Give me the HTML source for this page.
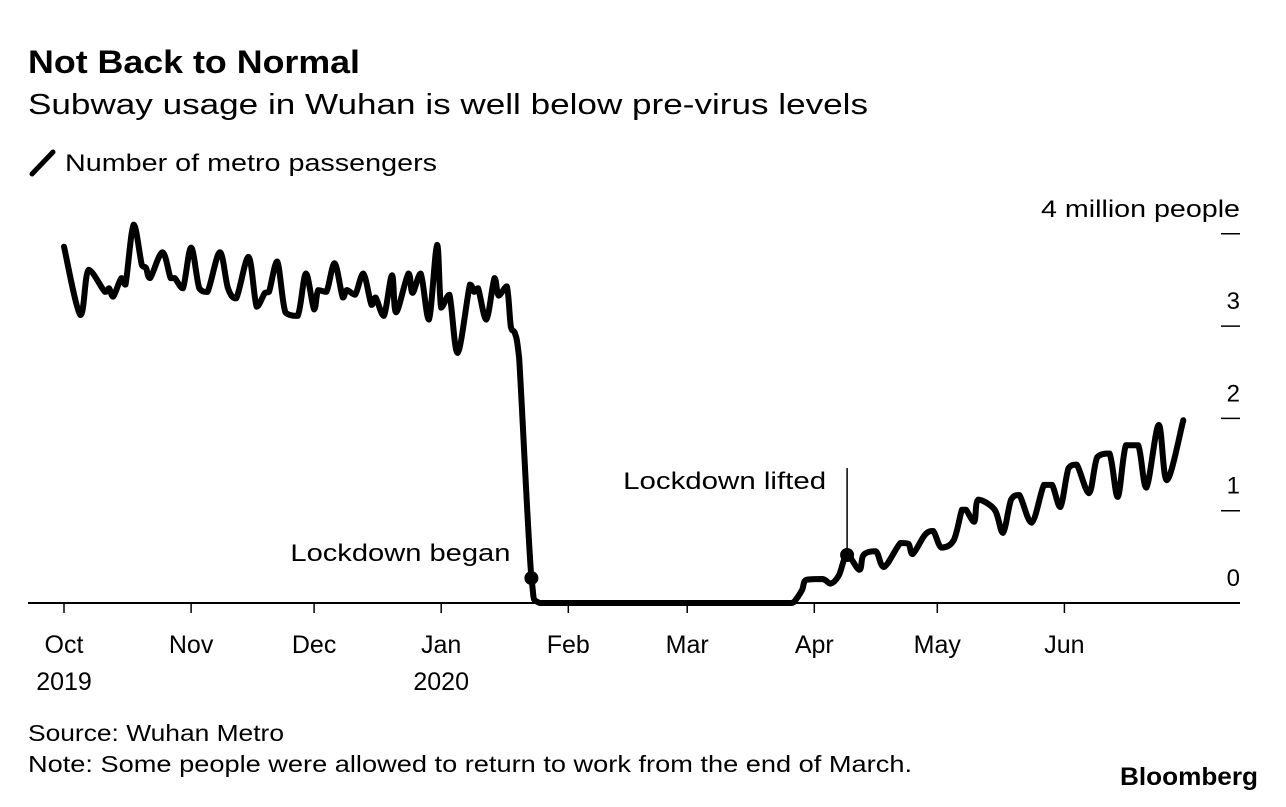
<!DOCTYPE html>
<html><head><meta charset="utf-8"><style>
body{margin:0;background:#fff;}
svg text{font-family:"Liberation Sans",sans-serif;fill:#000;}
</style></head><body>
<svg width="1286" height="802" xmlns="http://www.w3.org/2000/svg">
<text x="28" y="73" font-size="32" font-weight="bold" textLength="332" lengthAdjust="spacingAndGlyphs">Not Back to Normal</text>
<text x="28" y="114" font-size="29" textLength="840" lengthAdjust="spacingAndGlyphs">Subway usage in Wuhan is well below pre-virus levels</text>
<line x1="32" y1="174" x2="53" y2="152" stroke="#000" stroke-width="5" stroke-linecap="round"/>
<text x="65" y="171" font-size="24" textLength="372" lengthAdjust="spacingAndGlyphs">Number of metro passengers</text>
<g id="yaxis"></g>
<g id="xaxis"></g>
<g id="series"></g>
<text x="28" y="741" font-size="23" textLength="256" lengthAdjust="spacingAndGlyphs">Source: Wuhan Metro</text>
<text x="28" y="772" font-size="23" textLength="884" lengthAdjust="spacingAndGlyphs">Note: Some people were allowed to return to work from the end of March.</text>
<text x="1120" y="785" font-size="25" font-weight="bold" textLength="138" lengthAdjust="spacingAndGlyphs">Bloomberg</text>
</svg>
<script>
const days=[0,4,6,10,11,12,14,15,17,19,20,21,24,26,27,29,31,33,35,38,40,42,45,47,49,50,52,54,57,59,61,62,64,66,68,69,71,73,75,76,78,80,81,84,85,87,89,91,92,94,96,99,100,101,103,105,106,108,109,110,111,114,116,177,178,180,181,185,187,189,191,194,195,198,200,204,206,207,210,212,214,217,219,220,222,223,227,229,231,233,236,239,241,243,245,247,250,252,255,257,259,262,264,267,269,273];
const values=[3.86,3.12,3.61,3.37,3.41,3.32,3.52,3.45,4.10,3.66,3.63,3.52,3.80,3.52,3.52,3.41,3.85,3.41,3.37,3.80,3.41,3.30,3.75,3.21,3.36,3.37,3.70,3.15,3.11,3.57,3.18,3.39,3.37,3.68,3.31,3.39,3.34,3.57,3.23,3.31,3.11,3.55,3.15,3.57,3.36,3.57,3.07,3.88,3.20,3.34,2.71,3.45,3.37,3.41,3.07,3.52,3.33,3.43,2.99,2.92,2.66,0.27,0,0,0.01,0.14,0.25,0.26,0.21,0.30,0.52,0.36,0.52,0.56,0.39,0.65,0.64,0.53,0.74,0.78,0.60,0.68,1.01,1.01,0.88,1.12,1.01,0.76,1.12,1.17,0.87,1.28,1.28,1.04,1.46,1.50,1.19,1.58,1.62,1.15,1.71,1.71,1.25,1.93,1.33,1.98];
const monthDays=[0,31,61,92,123,152,183,213,244];
const monthLabels=["Oct","Nov","Dec","Jan","Feb","Mar","Apr","May","Jun"];
const yearLabels=["2019","","","2020","","","","",""];
const yTicks=[0,1,2,3,4];
const yTickLabels=["0","1","2","3","4 million people"];
const eventDays=[114,191];
const eventValues=[0.27,0.52];
const eventLabels=["Lockdown began","Lockdown lifted"];

const NS="http://www.w3.org/2000/svg";
function X(d){return 64+d*4.1;}
function Y(v){return 603-v*92.3;}
function mk(tag,attrs,parent,txt){const e=document.createElementNS(NS,tag);for(const k in attrs)e.setAttribute(k,attrs[k]);if(txt!==undefined)e.textContent=txt;parent.appendChild(e);return e;}
function cl(v,a,b){const lo=Math.min(a,b),hi=Math.max(a,b);return Math.max(lo,Math.min(hi,v));}
const ya=document.getElementById('yaxis'),xa=document.getElementById('xaxis'),sg=document.getElementById('series');
yTicks.forEach((t,i)=>{
  if(t>0){const l=mk('line',{x1:1221,x2:1240,y1:Y(t),y2:Y(t),stroke:'#000','stroke-width':1.5},ya);
  
  }
  const a={x:1240,y:Y(t)-17,'font-size':24,'text-anchor':'end'};
  if(t===4){a.textLength=199;a.lengthAdjust='spacingAndGlyphs';}
  const tx=mk('text',a,ya,yTickLabels[i]);
  
  
});
const base=mk('line',{x1:28,x2:1240,y1:603,y2:603,stroke:'#000','stroke-width':2},xa);


monthDays.forEach((d,i)=>{
  const l=mk('line',{x1:X(d),x2:X(d),y1:603,y2:613,stroke:'#000','stroke-width':1.5},xa);
  
  
  const t=mk('text',{x:X(d),y:653,'font-size':25,'text-anchor':'middle'},xa,monthLabels[i]);
  
  
  if(yearLabels[i]){const y=mk('text',{x:X(d),y:690,'font-size':25,'text-anchor':'middle'},xa,yearLabels[i]);
  
  }
});
const P=days.map((d,i)=>[X(d),Y(values[i])]);
let dstr='M'+P[0][0].toFixed(1)+','+P[0][1].toFixed(1);
for(let i=0;i<P.length-1;i++){
  const p0=P[Math.max(0,i-1)],p1=P[i],p2=P[i+1],p3=P[Math.min(P.length-1,i+2)];
  const k=1/6;
  const c1=[cl(p1[0]+(p2[0]-p0[0])*k,p1[0],p2[0]),cl(p1[1]+(p2[1]-p0[1])*k,p1[1],p2[1])];
  const c2=[cl(p2[0]-(p3[0]-p1[0])*k,p1[0],p2[0]),cl(p2[1]-(p3[1]-p1[1])*k,p1[1],p2[1])];
  dstr+=' C'+c1[0].toFixed(1)+','+c1[1].toFixed(1)+' '+c2[0].toFixed(1)+','+c2[1].toFixed(1)+' '+p2[0].toFixed(1)+','+p2[1].toFixed(1);
}
const pl=mk('path',{d:dstr,fill:'none',stroke:'#000','stroke-width':6,'stroke-linejoin':'round','stroke-linecap':'round'},sg);


eventDays.forEach((d,i)=>{
  const c=mk('circle',{cx:X(d),cy:Y(eventValues[i]),r:7,fill:'#000'},sg);
  
  
  let tx;
  if(i===0){tx=mk('text',{x:X(d)-21-220,y:Y(eventValues[i])-17,'font-size':24,textLength:220,lengthAdjust:'spacingAndGlyphs'},sg,eventLabels[i]);}
  else{const l=mk('line',{x1:X(d),x2:X(d),y1:468,y2:Y(eventValues[i]),stroke:'#000','stroke-width':1.5},sg);
  
  
  tx=mk('text',{x:X(d)-21-203,y:489,'font-size':24,textLength:203,lengthAdjust:'spacingAndGlyphs'},sg,eventLabels[i]);}
  
  
});
</script>
</body></html>
